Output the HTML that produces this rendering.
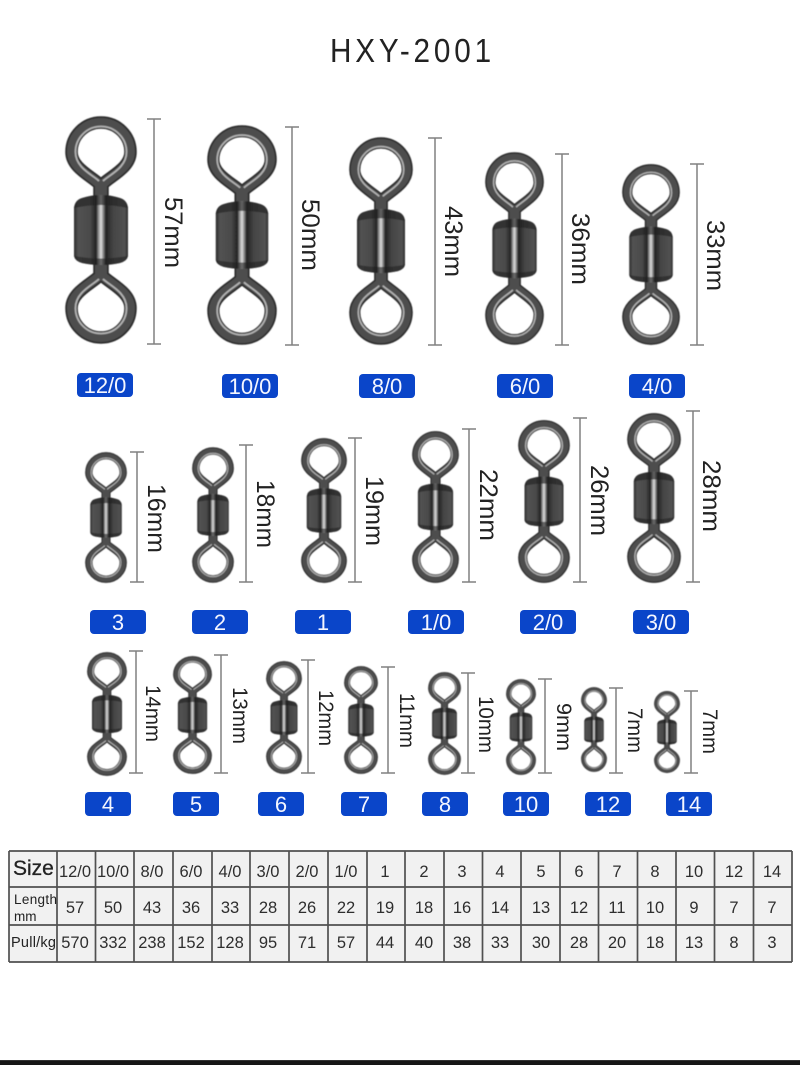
<!DOCTYPE html>
<html><head><meta charset="utf-8"><style>
html,body{margin:0;padding:0;background:#fff}
svg{display:block}
text{font-family:"Liberation Sans",sans-serif}
.d{font-size:25px;fill:#222;text-anchor:middle}
.b{font-size:22px;fill:#f4f6ff;text-anchor:middle}
.t{font-size:16.5px;fill:#2e2e2e;text-anchor:middle}
.l{stroke:#808080;stroke-width:1.5;fill:none}
.c{stroke:#505050;stroke-width:1.7;fill:none}
</style></head><body>
<svg width="800" height="1065" viewBox="0 0 800 1065" xmlns="http://www.w3.org/2000/svg">
<defs>
<filter id="soft" x="-10%" y="-10%" width="120%" height="120%"><feGaussianBlur stdDeviation=".45"/></filter>
<linearGradient id="bar" x1="0" x2="1" y1="0" y2="0">
<stop offset="0" stop-color="#2c2c2c"/><stop offset=".08" stop-color="#525252"/><stop offset=".3" stop-color="#4a4a4a"/><stop offset=".41" stop-color="#222"/><stop offset=".45" stop-color="#888"/><stop offset=".5" stop-color="#dedede"/><stop offset=".55" stop-color="#7a7a7a"/><stop offset=".59" stop-color="#222"/><stop offset=".72" stop-color="#444"/><stop offset=".94" stop-color="#525252"/><stop offset="1" stop-color="#2c2c2c"/>
</linearGradient>
<path id="ring" d="M1.500,-30 L1.500,-42 C-4,-52 -29.500,-60 -29.500,-78 A29.500,29.500 0 1 1 29.500,-78 C29.500,-60 4,-52 -1.500,-42 L-1.500,-30"/>
<path id="hl" d="M-2,-49 C-8,-55 -25.500,-62 -25.500,-78 A25.500,25.500 0 1 1 25.500,-78 C25.500,-62 8,-55 2,-49"/>
<g id="half">
<use href="#ring" fill="none" stroke="#2c2c2c" stroke-width="12.5"/>
<use href="#ring" fill="none" stroke="#4e4e4e" stroke-width="9"/>
<use href="#hl" fill="none" stroke="#b4b4b4" stroke-width="1.8"/>
</g>
<g id="s">
<use href="#half"/>
<use href="#half" transform="scale(1,-1)"/>
<path d="M-27,-22 Q-26,-30 -19,-32 Q-10,-35 0,-35 Q10,-35 19,-32 Q26,-30 27,-22 V26 Q26,31 19,33 Q10,35 0,35 Q-10,35 -19,33 Q-26,31 -27,26 Z" fill="url(#bar)"/>
<path d="M-27,-22 Q-26,-30 -19,-32 Q-10,-35 0,-35 Q10,-35 19,-32 Q26,-30 27,-22 Q0,-28 -27,-22 Z" fill="#222" opacity=".65"/>
<path d="M-27,26 Q-26,31 -19,33 Q-10,35 0,35 Q10,35 19,33 Q26,31 27,26 Q0,31 -27,26 Z" fill="#222" opacity=".6"/>
</g>
</defs>
<rect width="800" height="1065" fill="#fff"/>

<text transform="translate(330,62) scale(.9,1)" font-size="33" fill="#222" textLength="179" lengthAdjust="spacing">HXY-2001</text>

<!-- Swivels -->
<g filter="url(#soft)">
<use href="#s" transform="translate(101,230) scale(1,1)"/>
<use href="#s" transform="translate(242,235) scale(.972,.965)"/>
<use href="#s" transform="translate(381,241) scale(.889,.912)"/>
<use href="#s" transform="translate(514.5,248.5) scale(.82,.846)"/>
<use href="#s" transform="translate(651,254.5) scale(.806,.794)"/>
<use href="#s" transform="translate(106,517.500) scale(.583,.575)"/>
<use href="#s" transform="translate(213,515) scale(.583,.596)"/>
<use href="#s" transform="translate(324,510.500) scale(.639,.636)"/>
<use href="#s" transform="translate(435.500,507) scale(.653,.667)"/>
<use href="#s" transform="translate(544,501.500) scale(.722,.715)"/>
<use href="#s" transform="translate(654,498) scale(.75,.746)"/>
<use href="#s" transform="translate(107,714) scale(.556,.544)"/>
<use href="#s" transform="translate(192.500,715) scale(.542,.518)"/>
<use href="#s" transform="translate(284,717.500) scale(.5,.496)"/>
<use href="#s" transform="translate(361,720) scale(.472,.474)"/>
<use href="#s" transform="translate(444.500,723.500) scale(.458,.452)"/>
<use href="#s" transform="translate(521,727) scale(.417,.421)"/>
<use href="#s" transform="translate(594,729.500) scale(.361,.373)"/>
<use href="#s" transform="translate(667,732) scale(.361,.36)"/>
</g>

<!-- Row 1 -->
<path class="l" d="M154,119V344M147,119H161M147,344H161M292,127V345M285,127H299M285,345H299M435,138V345M428,138H442M428,345H442M562,154V345M555,154H569M555,345H569M697,164V345M690,164H704M690,345H704"/>
<text class="d" transform="translate(165,232.500) rotate(90)" textLength="71" lengthAdjust="spacingAndGlyphs">57mm</text>
<text class="d" transform="translate(302,235) rotate(90)" textLength="72" lengthAdjust="spacingAndGlyphs">50mm</text>
<text class="d" transform="translate(445,241.500) rotate(90)" textLength="71" lengthAdjust="spacingAndGlyphs">43mm</text>
<text class="d" transform="translate(572,249) rotate(90)" textLength="72" lengthAdjust="spacingAndGlyphs">36mm</text>
<text class="d" transform="translate(707,255.500) rotate(90)" textLength="71" lengthAdjust="spacingAndGlyphs">33mm</text>
<g fill="#0a45c9">
<rect x="77" y="373" width="56" height="24" rx="4"/><rect x="222" y="374" width="56" height="24" rx="4"/><rect x="359" y="374" width="56" height="24" rx="4"/><rect x="497" y="374" width="56" height="24" rx="4"/><rect x="629" y="374" width="56" height="24" rx="4"/>
<rect x="90" y="610" width="56" height="24" rx="4"/><rect x="192" y="610" width="56" height="24" rx="4"/><rect x="295" y="610" width="56" height="24" rx="4"/><rect x="408" y="610" width="56" height="24" rx="4"/><rect x="520" y="610" width="56" height="24" rx="4"/><rect x="633" y="610" width="56" height="24" rx="4"/>
<rect x="85" y="792" width="46" height="24" rx="4"/><rect x="173" y="792" width="46" height="24" rx="4"/><rect x="258" y="792" width="46" height="24" rx="4"/><rect x="341" y="792" width="46" height="24" rx="4"/><rect x="422" y="792" width="46" height="24" rx="4"/><rect x="503" y="792" width="46" height="24" rx="4"/><rect x="585" y="792" width="46" height="24" rx="4"/><rect x="666" y="792" width="46" height="24" rx="4"/>
</g>
<text class="b" x="105" y="393">12/0</text><text class="b" x="250" y="394">10/0</text><text class="b" x="387" y="394">8/0</text><text class="b" x="525" y="394">6/0</text><text class="b" x="657" y="394">4/0</text>
<text class="b" x="118" y="630">3</text><text class="b" x="220" y="630">2</text><text class="b" x="323" y="630">1</text><text class="b" x="436" y="630">1/0</text><text class="b" x="548" y="630">2/0</text><text class="b" x="661" y="630">3/0</text>
<text class="b" x="108" y="812">4</text><text class="b" x="196" y="812">5</text><text class="b" x="281" y="812">6</text><text class="b" x="364" y="812">7</text><text class="b" x="445" y="812">8</text><text class="b" x="526" y="812">10</text><text class="b" x="608" y="812">12</text><text class="b" x="689" y="812">14</text>

<!-- Row 2 -->
<path class="l" d="M137,452V582M130,452H144M130,582H144M246,445V582M239,445H253M239,582H253M355,438V582M348,438H362M348,582H362M469,429V582M462,429H476M462,582H476M580,418V582M573,418H587M573,582H587M693,411V582M686,411H700M686,582H700"/>
<text class="d" transform="translate(148,518.500) rotate(90)" textLength="69" lengthAdjust="spacingAndGlyphs">16mm</text>
<text class="d" transform="translate(257,514) rotate(90)" textLength="68" lengthAdjust="spacingAndGlyphs">18mm</text>
<text class="d" transform="translate(366,511) rotate(90)" textLength="70" lengthAdjust="spacingAndGlyphs">19mm</text>
<text class="d" transform="translate(480,505) rotate(90)" textLength="72" lengthAdjust="spacingAndGlyphs">22mm</text>
<text class="d" transform="translate(591,500.500) rotate(90)" textLength="71" lengthAdjust="spacingAndGlyphs">26mm</text>
<text class="d" transform="translate(703,496) rotate(90)" textLength="72" lengthAdjust="spacingAndGlyphs">28mm</text>

<!-- Row 3 -->
<path class="l" d="M136,651V773M129,651H143M129,773H143M221,655V773M214,655H228M214,773H228M308,660V773M301,660H315M301,773H315M388,667V773M381,667H395M381,773H395M468,673V773M461,673H475M461,773H475M545,679V773M538,679H552M538,773H552M616,688V773M609,688H623M609,773H623M691,691V773M684,691H698M684,773H698"/>
<text class="d" style="font-size:21px" transform="translate(146,713.500) rotate(90)" textLength="57" lengthAdjust="spacingAndGlyphs">14mm</text>
<text class="d" style="font-size:21px" transform="translate(233,715.500) rotate(90)" textLength="57" lengthAdjust="spacingAndGlyphs">13mm</text>
<text class="d" style="font-size:21px" transform="translate(319,718) rotate(90)" textLength="56" lengthAdjust="spacingAndGlyphs">12mm</text>
<text class="d" style="font-size:21px" transform="translate(400,720.500) rotate(90)" textLength="55" lengthAdjust="spacingAndGlyphs">11mm</text>
<text class="d" style="font-size:21px" transform="translate(479,724.500) rotate(90)" textLength="57" lengthAdjust="spacingAndGlyphs">10mm</text>
<text class="d" style="font-size:21px" transform="translate(557,727) rotate(90)" textLength="48" lengthAdjust="spacingAndGlyphs">9mm</text>
<text class="d" style="font-size:21px" transform="translate(628,730.500) rotate(90)" textLength="45" lengthAdjust="spacingAndGlyphs">7mm</text>
<text class="d" style="font-size:21px" transform="translate(703,731.500) rotate(90)" textLength="45" lengthAdjust="spacingAndGlyphs">7mm</text>

<!-- Table -->
<rect x="9" y="851" width="783" height="111" fill="#f1f1f1"/>
<path class="c" d="M9,851H792M9,887H792M9,925H792M9,962H792M9,851V962M57,851V962M95.500,851V962M134,851V962M173,851V962M212,851V962M250,851V962M289,851V962M328,851V962M367,851V962M405,851V962M444,851V962M482.500,851V962M521,851V962M560,851V962M598.500,851V962M637.500,851V962M676,851V962M714.500,851V962M753.500,851V962M792,851V962"/>
<text x="13" y="875" font-size="21" fill="#222" stroke="#222" stroke-width=".3">Size</text>
<text x="14" y="904" font-size="13.500" fill="#222" textLength="43">Length</text>
<text x="14" y="921" font-size="13.500" fill="#222">mm</text>
<text x="11" y="947" font-size="14.500" fill="#222" textLength="45">Pull/kg</text>
<g>
<text class="t" x="75" y="877" textLength="32" lengthAdjust="spacing">12/0</text><text class="t" x="113" y="877" textLength="32" lengthAdjust="spacing">10/0</text><text class="t" x="152" y="877">8/0</text><text class="t" x="191" y="877">6/0</text><text class="t" x="230" y="877">4/0</text><text class="t" x="268" y="877">3/0</text><text class="t" x="307" y="877">2/0</text><text class="t" x="346" y="877">1/0</text><text class="t" x="385" y="877">1</text><text class="t" x="424" y="877">2</text><text class="t" x="462" y="877">3</text><text class="t" x="500" y="877">4</text><text class="t" x="541" y="877">5</text><text class="t" x="579" y="877">6</text><text class="t" x="617" y="877">7</text><text class="t" x="655" y="877">8</text><text class="t" x="694" y="877">10</text><text class="t" x="734" y="877">12</text><text class="t" x="772" y="877">14</text>
</g>
<g>
<text class="t" x="75" y="913">57</text><text class="t" x="113" y="913">50</text><text class="t" x="152" y="913">43</text><text class="t" x="191" y="913">36</text><text class="t" x="230" y="913">33</text><text class="t" x="268" y="913">28</text><text class="t" x="307" y="913">26</text><text class="t" x="346" y="913">22</text><text class="t" x="385" y="913">19</text><text class="t" x="424" y="913">18</text><text class="t" x="462" y="913">16</text><text class="t" x="500" y="913">14</text><text class="t" x="541" y="913">13</text><text class="t" x="579" y="913">12</text><text class="t" x="617" y="913">11</text><text class="t" x="655" y="913">10</text><text class="t" x="694" y="913">9</text><text class="t" x="734" y="913">7</text><text class="t" x="772" y="913">7</text>
</g>
<g>
<text class="t" x="75" y="948">570</text><text class="t" x="113" y="948">332</text><text class="t" x="152" y="948">238</text><text class="t" x="191" y="948">152</text><text class="t" x="230" y="948">128</text><text class="t" x="268" y="948">95</text><text class="t" x="307" y="948">71</text><text class="t" x="346" y="948">57</text><text class="t" x="385" y="948">44</text><text class="t" x="424" y="948">40</text><text class="t" x="462" y="948">38</text><text class="t" x="500" y="948">33</text><text class="t" x="541" y="948">30</text><text class="t" x="579" y="948">28</text><text class="t" x="617" y="948">20</text><text class="t" x="655" y="948">18</text><text class="t" x="694" y="948">13</text><text class="t" x="734" y="948">8</text><text class="t" x="772" y="948">3</text>
</g>

<rect x="0" y="1060" width="800" height="5" fill="#161616"/>
<rect x="0" y="1060" width="800" height="1" fill="#333"/>
</svg>
</body></html>
